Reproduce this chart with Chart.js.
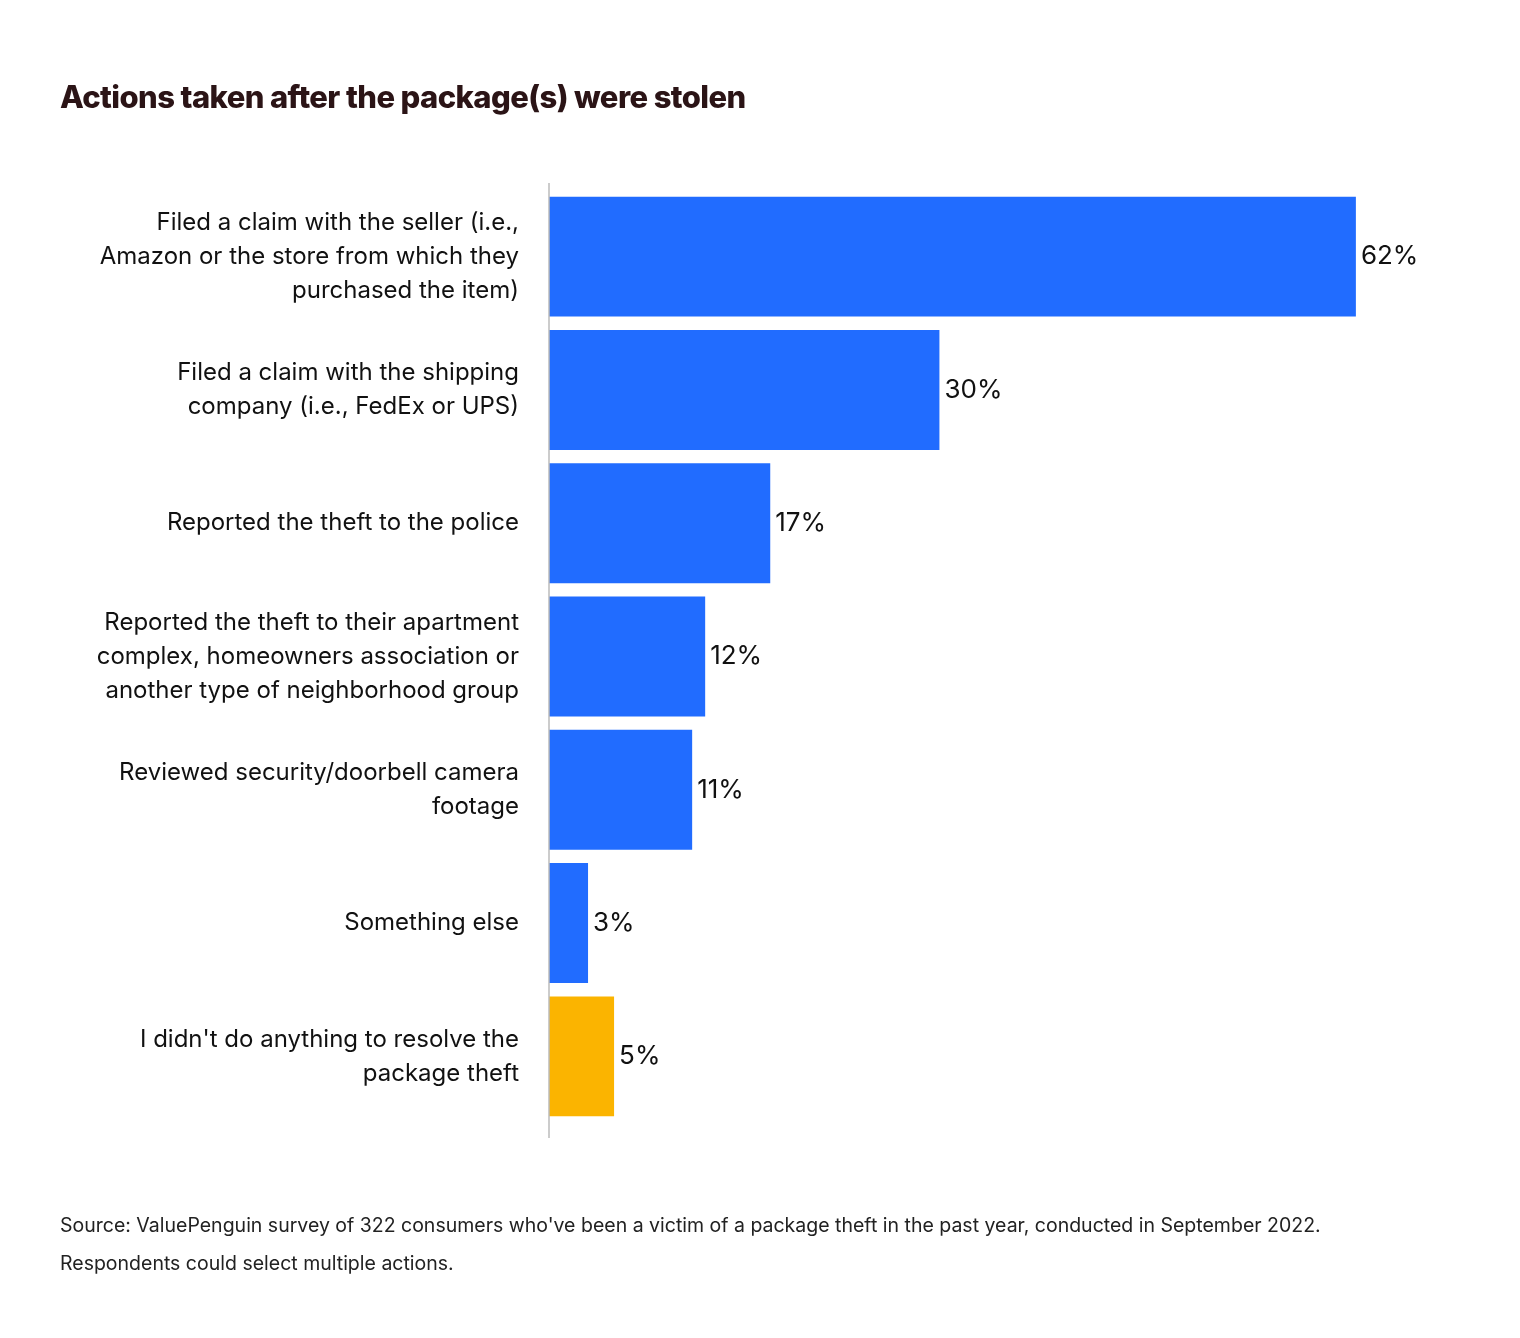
<!DOCTYPE html>
<html>
<head>
<meta charset="utf-8">
<script src="https://cdn.jsdelivr.net/npm/chart.js@4/dist/chart.umd.min.js"></script>
<style>
  body { margin:0; background:#fff; font-family: Inter, "Noto Sans", sans-serif; }
  #wrap { position:relative; width:1520px; height:1338px; }
  #title { position:absolute; left:60px; top:78px; font-size:31px; font-weight:800; color:#2b1416; letter-spacing:-0.6px; }
  #note { position:absolute; left:60px; top:1206px; font-size:19.5px; color:#222; line-height:38px; }
  canvas { position:absolute; left:0; top:0; }
</style>
</head>
<body>
<div id="wrap">
  <canvas id="myChart" width="1520" height="1338"></canvas>
  <div id="title">Actions taken after the package(s) were stolen</div>
  <div id="note">Source: ValuePenguin survey of 322 consumers who've been a victim of a package theft in the past year, conducted in September 2022.<br>Respondents could select multiple actions.</div>
</div>
<script>
// kategorie (podzielone na linie jak na obrazku)
const labels = [
  ["Filed a claim with the seller (i.e.,", "Amazon or the store from which they", "purchased the item)"],
  ["Filed a claim with the shipping", "company (i.e., FedEx or UPS)"],
  "Reported the theft to the police",
  ["Reported the theft to their apartment", "complex, homeowners association or", "another type of neighborhood group"],
  ["Reviewed security/doorbell camera", "footage"],
  "Something else",
  ["I didn't do anything to resolve the", "package theft"]
];
const values = [62, 30, 17, 12, 11, 3, 5];
const colors = ["#216cff", "#216cff", "#216cff", "#216cff", "#216cff", "#216cff", "#fbb400"];

// etykiety z procentami na końcu słupka
const valueLabels = {
  id: 'valueLabels',
  afterDatasetsDraw(chart) {
    const ctx = chart.ctx;
    const meta = chart.getDatasetMeta(0);
    ctx.save();
    ctx.font = '26px Inter, "Noto Sans", sans-serif';
    ctx.fillStyle = '#111';
    ctx.textBaseline = 'middle';
    meta.data.forEach((bar, i) => {
      ctx.fillText(values[i] + '%', bar.x + 5, bar.y);
    });
    ctx.restore();
  }
};

// pionowa linia osi
const axisLine = {
  id: 'axisLine',
  afterDraw(chart) {
    const ctx = chart.ctx;
    const x = chart.scales.x.left;
    ctx.save();
    ctx.strokeStyle = '#bbb';
    ctx.lineWidth = 1.5;
    ctx.beginPath();
    ctx.moveTo(x, 183);
    ctx.lineTo(x, 1138);
    ctx.stroke();
    ctx.restore();
  }
};

new Chart(document.getElementById('myChart'), {
  type: 'bar',
  data: {
    labels: labels,
    datasets: [{
      data: values,
      backgroundColor: colors,
      barPercentage: 0.9,
      categoryPercentage: 1
    }]
  },
  options: {
    indexAxis: 'y',
    responsive: false,
    animation: false,
    layout: { padding: { top: 190, bottom: 215, right: 60, left: 0 } },
    plugins: { legend: { display: false }, tooltip: { enabled: false } },
    scales: {
      x: { min: 0, max: 70, display: false },
      y: {
        afterFit: s => { s.width = 549; },
        grid: { display: false, drawBorder: false },
        border: { display: false },
        ticks: {
          padding: 22,
          color: '#111',
          font: { size: 24, family: 'Inter, "Noto Sans", sans-serif', lineHeight: 1.42 }
        }
      }
    }
  },
  plugins: [valueLabels, axisLine]
});
</script>
</body>
</html>
